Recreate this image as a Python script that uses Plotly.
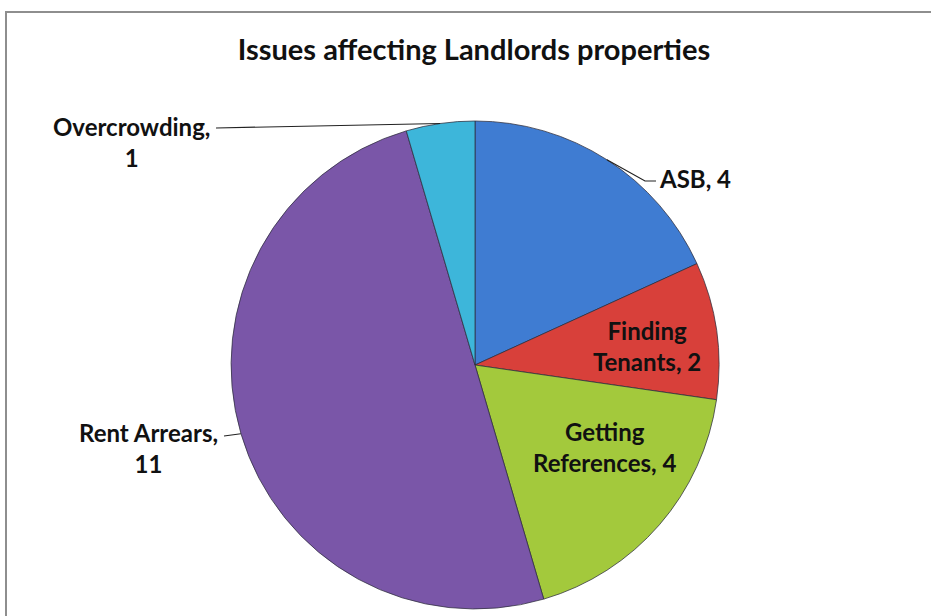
import math
import plotly.graph_objects as go

# Landlord survey: number of landlords reporting each issue
issues = ["ASB", "Finding Tenants", "Getting References", "Rent Arrears", "Overcrowding"]
counts = [4, 2, 4, 11, 1]
colors = ["#3f7cd2", "#d8403a", "#a3c93c", "#7a56a8", "#3db6da"]

# how each data label is broken into lines and where it sits
label_heads = ["ASB", "Finding<br>Tenants", "Getting<br>References", "Rent Arrears", "Overcrowding"]
label_seps = [" ", " ", " ", "<br>", "<br>"]
label_pos = [(657, 178), (647, 346), (604, 447), (148, 448), (131, 142)]
label_anchor = ["left", "center", "center", "center", "center"]
# label-side end of the leader line (None = label sits on the slice)
leader_ends = [[(645, 181), (656, 181)], None, None, [(224, 436)], [(216, 128)]]

W, H = 931, 616
CX, CY, R = 475, 365, 244


def px(x):
    return x / W


def py(y):
    return 1 - y / H


fig = go.Figure(
    go.Pie(
        labels=issues,
        values=counts,
        sort=False,
        direction="clockwise",
        rotation=0,
        textinfo="none",
        hoverinfo="label+value",
        marker=dict(colors=colors, line=dict(color="rgba(45,45,60,0.75)", width=1)),
        domain=dict(x=[px(CX - R), px(CX + R)], y=[py(CY + R), py(CY - R)]),
        showlegend=False,
    )
)

font = dict(family="Lato, 'Open Sans', sans-serif", size=24, color="#111111", weight="bold")

annotations = []
shapes = []
total = sum(counts)
cum = 0
for name, v, head, sep, pos, anchor, lead in zip(issues, counts, label_heads, label_seps,
                                                 label_pos, label_anchor, leader_ends):
    mid = (cum + v / 2) / total * 2 * math.pi
    cum += v
    annotations.append(dict(
        x=px(pos[0]), y=py(pos[1]), xref="paper", yref="paper",
        text=f"{head},{sep}{v}", showarrow=False, align="center",
        xanchor=anchor, yanchor="middle", font=font,
    ))
    if lead:
        ex, ey = CX + R * math.sin(mid), CY - R * math.cos(mid)
        pts = [(ex, ey)] + lead
        path = "M " + " L ".join(f"{px(a):.5f},{py(b):.5f}" for a, b in pts)
        shapes.append(dict(type="path", xref="paper", yref="paper", path=path,
                           line=dict(color="#222222", width=1.2)))

# chart frame
shapes.append(dict(type="rect", xref="paper", yref="paper",
                   x0=px(6), x1=1.05, y0=-0.05, y1=py(12),
                   line=dict(color="#8e8e8e", width=2), fillcolor="rgba(0,0,0,0)", layer="below"))

fig.update_layout(
    width=W, height=H,
    margin=dict(l=0, r=0, t=0, b=0),
    paper_bgcolor="white",
    plot_bgcolor="white",
    title=dict(text="Issues affecting Landlords properties", x=474 / W, xanchor="center",
               y=1 - 50 / H, yanchor="middle", yref="container",
               font=dict(family="Lato, 'Open Sans', sans-serif", size=29, color="#111111", weight="bold")),
    annotations=annotations,
    shapes=shapes,
)

fig.write_html("out.html")
